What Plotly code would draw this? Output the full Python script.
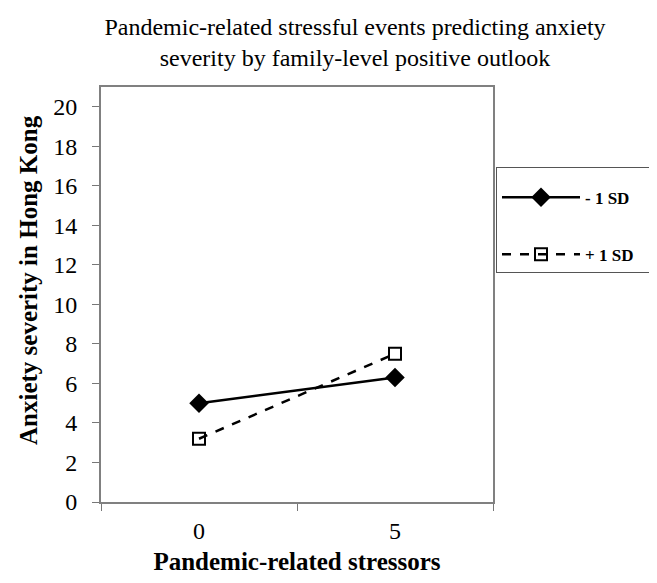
import plotly.graph_objects as go

categories = ["0", "5"]
minus_sd = [5.0, 6.3]
plus_sd = [3.2, 7.5]
y_ticks = [0, 2, 4, 6, 8, 10, 12, 14, 16, 18, 20]

FONT = "Liberation Serif"
OFF = 8  # page body margin offset
NB = "\u00a0"

fig = go.Figure()
fig.add_trace(go.Scatter(
    x=categories, y=minus_sd, name="<b>- 1 SD</b>" + NB * 3, mode="lines+markers",
    line=dict(color="black", width=2.5),
    marker=dict(symbol="diamond", size=15, color="black"),
    legendgroup="a",
))
fig.add_trace(go.Scatter(
    x=categories, y=plus_sd, name="<b>+ 1 SD</b>" + NB * 3, mode="lines+markers",
    line=dict(color="black", width=2.5, dash="dash"),
    marker=dict(symbol="square-open", size=12, color="black", line=dict(width=2)),
    legendgroup="b",
))

W, H = 657 - OFF, 583 - OFF
L, R, T, B = 101 - OFF, 164, 87 - OFF, 81
pw, ph = W - L - R, H - T - B

fig.update_layout(
    width=W, height=H,
    margin=dict(l=L, r=R, t=T, b=B, autoexpand=False),
    paper_bgcolor="white", plot_bgcolor="white",
    font=dict(family=FONT, color="black"),
    title=dict(
        text="Pandemic-related stressful events predicting anxiety<br>severity by family-level positive outlook",
        x=(355 - 101) / pw, xref="paper", xanchor="center",
        y=1 - (35 - OFF) / H, yanchor="middle",
        font=dict(size=24, family=FONT),
    ),
    xaxis=dict(
        type="category", range=[-0.5, 1.5], tickson="boundaries",
        ticks="outside", ticklen=7, tickcolor="#777", tickwidth=1,
        showline=True, linecolor="#808080", linewidth=2, mirror=True,
        showgrid=False, zeroline=False, ticklabelstandoff=6,
        tickfont=dict(size=24, family=FONT),
        title=dict(text="<b>Pandemic-related stressors</b>", font=dict(size=25, family=FONT), standoff=10),
    ),
    yaxis=dict(
        range=[0, 21], tickvals=y_ticks,
        ticks="outside", ticklen=7, tickcolor="#777", tickwidth=1,
        showline=True, linecolor="#808080", linewidth=2, mirror=True,
        showgrid=False, zeroline=False, ticklabelstandoff=10,
        tickfont=dict(size=24, family=FONT),
    ),
    legend=dict(
        x=(496 - 101) / pw, y=(502 - 167) / ph,
        xanchor="left", yanchor="top",
        bordercolor="#555", borderwidth=1, bgcolor="white",
        font=dict(size=17, family=FONT),
        title=dict(text=" ", font=dict(size=9, family=FONT)),
        traceorder="grouped", tracegroupgap=32,
        itemwidth=78,
    ),
    showlegend=True,
)

fig.add_annotation(
    text="<b>Anxiety severity in Hong Kong</b>", textangle=-90,
    xref="paper", yref="paper",
    x=(28 - 101) / pw, y=(502 - 280) / ph,
    xanchor="center", yanchor="middle", showarrow=False,
    font=dict(size=25, family=FONT),
)

fig.write_html("out.html")
